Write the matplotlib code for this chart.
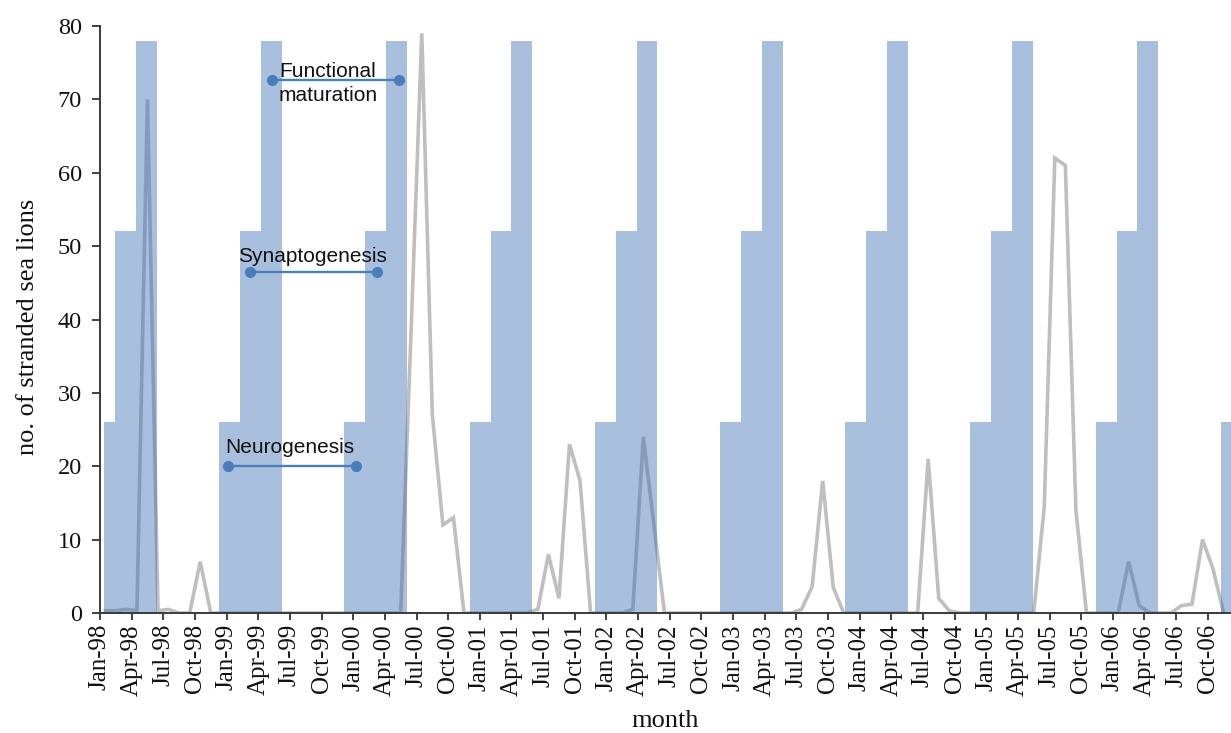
import matplotlib
matplotlib.use("Agg")
import matplotlib.pyplot as plt
import numpy as np

SERIF = ["Liberation Serif", "DejaVu Serif"]
SANS = ["Liberation Sans", "DejaVu Sans"]
plt.rcParams["font.family"] = SERIF

# ---------------- data ----------------
# Monthly stranded sea lions, Jan-98 ... Nov-06
strand_1998 = [0.3, 0.3, 0.5, 0.3, 70, 0.3, 0.5, 0, 0, 7, 0, 0]
strand_1999 = [0, 0, 0, 0, 0, 0, 0, 0, 0, 0, 0, 0]
strand_2000 = [0, 0, 0, 0, 0, 39, 79, 27, 12, 13, 0, 0]
strand_2001 = [0, 0, 0, 0, 0, 0.5, 8, 2, 23, 18, 0, 0]
strand_2002 = [0, 0, 0.5, 24, 12, 0, 0, 0, 0, 0, 0, 0]
strand_2003 = [0, 0, 0, 0, 0, 0, 0.5, 3.6, 18, 3.5, 0, 0]
strand_2004 = [0, 0, 0, 0, 0, 0, 21, 2, 0.3, 0, 0, 0]
strand_2005 = [0, 0, 0, 0, 0, 14.5, 62, 61, 14, 0, 0, 0]
strand_2006 = [0, 7, 1, 0, 0, 0, 1, 1.2, 10, 6, 0]
strandings = (strand_1998 + strand_1999 + strand_2000 + strand_2001 + strand_2002
              + strand_2003 + strand_2004 + strand_2005 + strand_2006)

# Developmental-stage bars, monthly Jan-98 ... Dec-06
bars_1998 = [26, 52, 52, 78, 78, 0, 0, 0, 0, 0, 0, 26]
bars_1999 = [26, 52, 52, 78, 78, 0, 0, 0, 0, 0, 0, 26]
bars_2000 = [26, 52, 52, 78, 78, 0, 0, 0, 0, 0, 0, 26]
bars_2001 = [26, 52, 52, 78, 78, 0, 0, 0, 0, 0, 0, 26]
bars_2002 = [26, 52, 52, 78, 78, 0, 0, 0, 0, 0, 0, 26]
bars_2003 = [26, 52, 52, 78, 78, 0, 0, 0, 0, 0, 0, 26]
bars_2004 = [26, 52, 52, 78, 78, 0, 0, 0, 0, 0, 0, 26]
bars_2005 = [26, 52, 52, 78, 78, 0, 0, 0, 0, 0, 0, 26]
bars_2006 = [26, 52, 52, 78, 78, 0, 0, 0, 0, 0, 0, 26]
stage_bars = (bars_1998 + bars_1999 + bars_2000 + bars_2001 + bars_2002
              + bars_2003 + bars_2004 + bars_2005 + bars_2006)

tick_labels = ["Jan-98", "Apr-98", "Jul-98", "Oct-98", "Jan-99", "Apr-99", "Jul-99", "Oct-99",
               "Jan-00", "Apr-00", "Jul-00", "Oct-00", "Jan-01", "Apr-01", "Jul-01", "Oct-01",
               "Jan-02", "Apr-02", "Jul-02", "Oct-02", "Jan-03", "Apr-03", "Jul-03", "Oct-03",
               "Jan-04", "Apr-04", "Jul-04", "Oct-04", "Jan-05", "Apr-05", "Jul-05", "Oct-05",
               "Jan-06", "Apr-06", "Jul-06", "Oct-06"]
y_ticks = [0, 10, 20, 30, 40, 50, 60, 70, 80]

# Stage annotations (month units on main axis)
stage_names = ["Neurogenesis", "Synaptogenesis", "Functional", "maturation"]
stage_start = [12.1, 14.2, 16.3]
stage_end = [24.3, 26.3, 28.3]
stage_level = [20, 46.5, 72.6]

# ---------------- figure ----------------
W_PX, H_PX = 1231, 733
fig = plt.figure(figsize=(W_PX / 100, H_PX / 100), dpi=100)
ax = fig.add_axes([100 / W_PX, 1 - 613 / H_PX, 1131 / W_PX, 587 / H_PX])
XMAX = 107.2
ax.set_xlim(0, XMAX)
ax.set_ylim(0, 80)

x_line = np.arange(len(strandings)) + 0.5
ax.plot(x_line, strandings, color="#BFBFBF", lw=2.6, solid_joinstyle="miter", zorder=2)

ax.set_xticks(np.arange(len(tick_labels)) * 3)
ax.set_xticklabels(tick_labels, rotation=90)
ax.set_yticks(y_ticks)
ax.tick_params(axis="x", length=5, width=1.3, color="#333333", pad=3, labelsize=18,
               labelcolor="#111111")
ax.tick_params(axis="y", length=6, width=1.3, color="#333333", pad=7, labelsize=17.5,
               labelcolor="#111111")
for s in ax.spines.values():
    s.set_visible(False)

ax.set_xlabel("month", fontsize=19, color="#111111", va="top")
ax.xaxis.set_label_coords(0.5, -0.166)
ax.set_ylabel("no. of stranded sea lions", fontsize=19, color="#111111")
ax.yaxis.set_label_coords(-0.054, 0.487)

# bars on a twin x-axis (slightly different scale, as in the original overlay)
ax2 = ax.twiny()
A, B = 0.42, 0.989
ax2.set_xlim((0 - A) / B, (XMAX - A) / B)
ax2.stairs(stage_bars, np.arange(len(stage_bars) + 1), fill=True,
           color="#4071B6", alpha=0.45, linewidth=0)
ax2.set_xticks([])
ax2.tick_params(top=False, labeltop=False)
for k in ["top", "right"]:
    ax2.spines[k].set_visible(False)
for k in ["left", "bottom"]:
    ax2.spines[k].set_color("#3a3a3a")
    ax2.spines[k].set_linewidth(1.4)
ax.set_ylim(0, 80)

# stage annotations
for s0, s1, lv in zip(stage_start, stage_end, stage_level):
    ax2.plot([s0, s1], [lv, lv], color="#4A7EBB", lw=1.7, marker="o", ms=7,
             transform=ax.transData, clip_on=False)
ann_kw = dict(transform=ax.transData, ha="center", va="baseline", fontsize=15,
              family=SANS, color="#111111")
ax2.text(18.0, 21.8, stage_names[0], **ann_kw)
ax2.text(20.1, 47.8, stage_names[1], **ann_kw)
ax2.text(21.6, 73.0, stage_names[2], **ann_kw)
ax2.text(21.6, 69.8, stage_names[3], **ann_kw)

fig.savefig("out.png", dpi=100)
